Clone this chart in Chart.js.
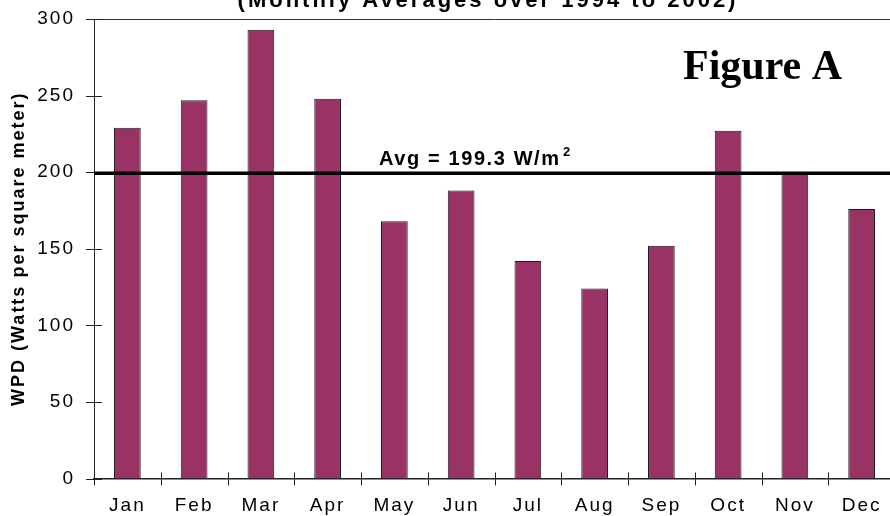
<!DOCTYPE html>
<html>
<head>
<meta charset="utf-8">
<script src="https://cdn.jsdelivr.net/npm/chart.js@4.4.1/dist/chart.umd.min.js"></script>
<style>
    html, body { margin: 0; padding: 0; background: #fff; overflow: hidden; }
    #wrap { width: 900px; height: 516px; }
</style>
</head>
<body>
<div id="wrap"><canvas id="wpdChart"></canvas></div>
<script>
const months = ['Jan', 'Feb', 'Mar', 'Apr', 'May', 'Jun', 'Jul', 'Aug', 'Sep', 'Oct', 'Nov', 'Dec'];
const wpdValues = [229, 247, 293, 248, 168, 188, 142, 124, 152, 227, 200, 176];
const yTicks = [0, 50, 100, 150, 200, 250, 300];
const avgValue = 199.3;
const chartTitle = '(Monthly Averages over 1994 to 2002)';
const figureLabel = 'Figure A';
const yAxisTitle = 'WPD (Watts per square meter)';

const sans = '"Liberation Sans", Arial, sans-serif';

// frame, crossing tick marks, average line and the free texts
const framePlugin = {
    id: 'frame',
    beforeDraw(chart) {
        chart.ctx.letterSpacing = '2px';
    },
    afterDatasetsDraw(chart) {
        const {ctx, chartArea: area, scales: {x, y}} = chart;
        ctx.save();
        ctx.letterSpacing = '0px';

        // top border
        ctx.strokeStyle = '#333';
        ctx.lineWidth = 1;
        ctx.beginPath();
        ctx.moveTo(area.left, area.top + 0.5);
        ctx.lineTo(area.right, area.top + 0.5);
        ctx.stroke();

        // y tick marks, crossing the axis
        ctx.strokeStyle = '#222';
        ctx.beginPath();
        yTicks.forEach(v => {
            const py = Math.round(y.getPixelForValue(v)) + 0.5;
            ctx.moveTo(area.left - 8, py);
            ctx.lineTo(area.left + 8, py);
        });
        ctx.stroke();

        // x tick marks at category boundaries
        const step = x.getPixelForValue(1) - x.getPixelForValue(0);
        ctx.beginPath();
        for (let i = 0; i <= months.length; i++) {
            const px = Math.round(x.getPixelForValue(i) - step / 2) + 0.5;
            ctx.moveTo(px, area.bottom - 6);
            ctx.lineTo(px, area.bottom + 7);
        }
        ctx.stroke();

        // average line
        const ay = y.getPixelForValue(avgValue);
        ctx.strokeStyle = '#000';
        ctx.lineWidth = 3.5;
        ctx.beginPath();
        ctx.moveTo(area.left, ay);
        ctx.lineTo(area.right, ay);
        ctx.stroke();
        ctx.restore();
    },
    afterDraw(chart) {
        const {ctx, scales: {y}} = chart;
        const ay = y.getPixelForValue(avgValue);
        ctx.save();
        ctx.fillStyle = '#000';
        ctx.textBaseline = 'alphabetic';

        ctx.font = 'bold 22px ' + sans;
        ctx.letterSpacing = '3px';
        ctx.textAlign = 'center';
        ctx.fillText(chartTitle, 488, 7);

        ctx.textAlign = 'left';
        ctx.font = 'bold 20px ' + sans;
        ctx.letterSpacing = '1.6px';
        ctx.fillText('Avg = ' + avgValue + ' W/m', 379, ay - 8);
        ctx.font = 'bold 13px ' + sans;
        ctx.letterSpacing = '0px';
        ctx.fillText('2', 563, ay - 17);

        ctx.font = 'bold 42px "Liberation Serif", "Times New Roman", serif';
        ctx.fillText(figureLabel, 683, 79);
        ctx.restore();
    }
};

new Chart('wpdChart', {
    type: 'bar',
    data: {
        labels: months,
        datasets: [{
            label: 'WPD',
            data: wpdValues,
            backgroundColor: '#993366',
            borderColor: '#1a1a1a',
            borderWidth: 1,
            barPercentage: 0.4,
            categoryPercentage: 1.0
        }]
    },
    options: {
        responsive: true,
        maintainAspectRatio: false,
        animation: false,
        layout: {
            padding: {left: 0, right: 5, top: 19, bottom: 0}
        },
        scales: {
            x: {
                offset: true,
                grid: {display: false, drawTicks: false},
                border: {display: true, color: '#222', width: 1.5},
                ticks: {
                    color: '#000',
                    font: {family: sans, size: 19},
                    padding: 16,
                    maxRotation: 0,
                    autoSkip: false
                },
                afterFit(scale) {
                    scale.height = 37.5;
                    scale.paddingLeft = 0;
                    scale.paddingRight = 0;
                }
            },
            y: {
                min: 0,
                max: 300,
                grid: {display: false, drawTicks: false},
                border: {display: true, color: '#222', width: 1},
                ticks: {
                    stepSize: 50,
                    color: '#000',
                    font: {family: sans, size: 19},
                    padding: 19
                },
                title: {
                    display: true,
                    text: yAxisTitle,
                    color: '#000',
                    font: {family: sans, size: 18, weight: 'bold'},
                    padding: {top: 8, bottom: 0}
                },
                afterFit(scale) {
                    scale.width = 94;
                    scale.paddingTop = 0;
                    scale.paddingBottom = 0;
                }
            }
        },
        plugins: {
            legend: {display: false},
            tooltip: {enabled: false}
        }
    },
    plugins: [framePlugin]
});
</script>
</body>
</html>
